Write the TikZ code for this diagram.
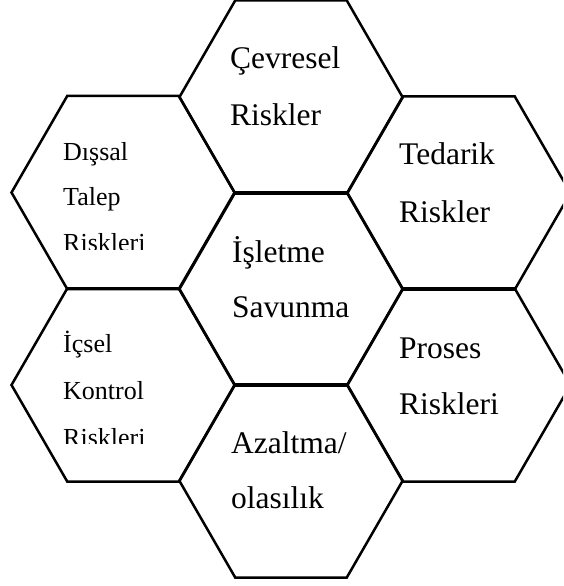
\documentclass[tikz,border=0pt]{standalone}
\usepackage{fontspec}
\setmainfont{Liberation Serif}
\begin{document}
\begin{tikzpicture}[x=1pt,y=-1pt,
  hex/.style={draw=black,line width=2.5pt,line join=miter},
  bigtxt/.style={anchor=base west,inner sep=0pt,font=\fontsize{31.5}{31.5}\selectfont},
  smalltxt/.style={anchor=base west,inner sep=0pt,font=\fontsize{26}{26}\selectfont}]
\path[use as bounding box,clip] (0,0) rectangle (563,586);
\def\hs{111.5}
% centres of the seven cells
\coordinate (cev) at (291,97);
\coordinate (ted) at (459,193);
\coordinate (isl) at (291,289);
\coordinate (pro) at (459,385);
\coordinate (aza) at (291,481);
\coordinate (dis) at (123,192.5);
\coordinate (ics) at (123,385);
\foreach \c in {cev,ted,isl,pro,aza,dis,ics}{
  \draw[hex] (\c) +(0:\hs) -- +(60:\hs) -- +(120:\hs) -- +(180:\hs)
    -- +(240:\hs) -- +(300:\hs) -- cycle;
}
% labels
\node[bigtxt] (t1) at (230,68) {Çevresel};
\node[bigtxt] (t2) at (230,125) {Riskler};
\node[bigtxt] (t3) at (399,164) {Tedarik};
\node[bigtxt] (t4) at (399,222) {Riskler};
\node[bigtxt] (t5) at (232,262) {İşletme};
\node[bigtxt] (t6) at (232,317) {Savunma};
\node[bigtxt] (t7) at (399,358) {Proses};
\node[bigtxt] (t8) at (399,414) {Riskleri};
\node[bigtxt] (t9) at (231,453) {Azaltma/};
\node[bigtxt] (t10) at (231,508) {olasılık};
\node[smalltxt] (t11) at (63,160) {Dışsal};
\node[smalltxt] (t12) at (63,205) {Talep};
\begin{scope}
  \clip (40,220) rectangle (200,249);
  \node[smalltxt] (t13) at (63,251) {Riskleri};
\end{scope}
\node[smalltxt] (t14) at (63,352) {İçsel};
\node[smalltxt] (t15) at (63,399) {Kontrol};
\begin{scope}
  \clip (40,415) rectangle (200,443);
  \node[smalltxt] (t16) at (63,446) {Riskleri};
\end{scope}
\end{tikzpicture}
\end{document}
